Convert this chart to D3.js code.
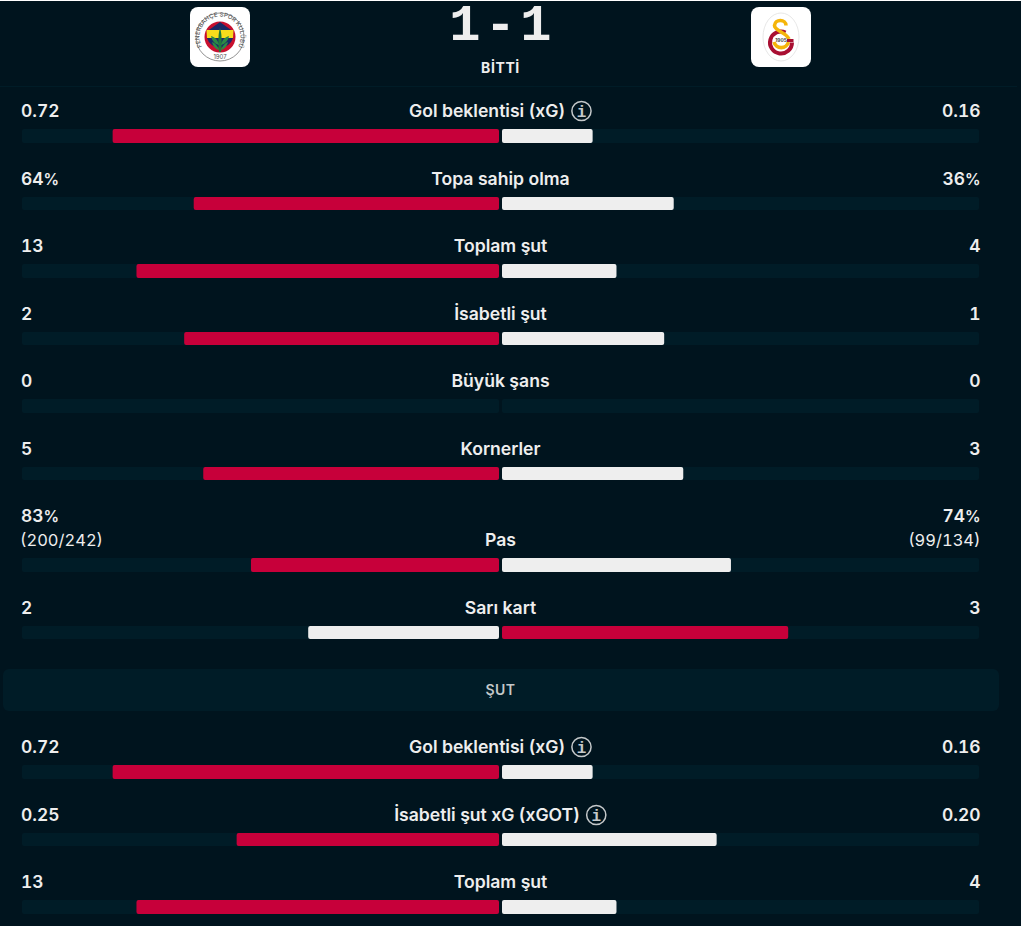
<!DOCTYPE html>
<html>
<head>
<meta charset="utf-8">
<script src="https://cdn.jsdelivr.net/npm/d3@7"></script>
<style>
  html, body { margin: 0; padding: 0; background: #00141e; overflow: hidden; }
  svg { display: block; }
  text { font-family: Inter, "Noto Sans", sans-serif; fill: #eeeeee; }
  .lbl { font-size: 17.6px; font-weight: 600; }
  .val { font-size: 17.4px; font-weight: 600; font-variant-numeric: tabular-nums; }
  .sub { font-size: 16.5px; font-weight: 400; font-variant-numeric: tabular-nums; }
</style>
</head>
<body>
<svg id="vis"></svg>
<script>
var statNames = ["Gol beklentisi (xG)", "Topa sahip olma", "Toplam şut", "İsabetli şut", "Büyük şans", "Kornerler", "Pas", "Sarı kart", "Gol beklentisi (xG)", "İsabetli şut xG (xGOT)", "Toplam şut"];
var homeLabels = ["0.72", "64%", "13", "2", "0", "5", "83%", "2", "0.72", "0.25", "13"];
var awayLabels = ["0.16", "36%", "4", "1", "0", "3", "74%", "3", "0.16", "0.20", "4"];
var homeDetail = [null, null, null, null, null, null, "(200/242)", null, null, null, null];
var awayDetail = [null, null, null, null, null, null, "(99/134)", null, null, null, null];
// bar share of each side, percent
var homeShare = [81, 64, 76, 66, 0, 62, 52, 40, 81, 55, 76];
var awayShare = [19, 36, 24, 34, 0, 38, 48, 60, 19, 45, 24];
var hasInfo = [true, false, false, false, false, false, false, false, true, true, false];
var sectionBefore = [null, null, null, null, null, null, null, null, "ŞUT", null, null];
var scoreText = "1-1";
var statusText = "BİTTİ";

var width = 1021, height = 926;
var red = "#c7003a", light = "#eeeeee", track = "#001c27";
var svg = d3.select("#vis").attr("width", width).attr("height", height);

svg.append("rect").attr("width", width).attr("height", height).attr("fill", "#00141e");
svg.append("rect").attr("width", width).attr("height", 1).attr("fill", "#ffffff");
svg.append("line").attr("x1", 0).attr("x2", 1017).attr("y1", 86.5).attr("y2", 86.5).attr("stroke", "#001c27");

// header
svg.append("text").text(scoreText).attr("x", 502.5).attr("y", 40)
  .attr("text-anchor", "middle")
  .style("font-family", "'Liberation Mono', monospace").style("font-weight", 700).style("font-size", "52px").style("letter-spacing", "4.3px");
svg.append("text").text(statusText).attr("x", 500.5).attr("y", 73)
  .attr("text-anchor", "middle").style("font-size", "14px").style("font-weight", 700).style("letter-spacing", "0.6px");

// crests
var fb = svg.append("g").attr("transform", "translate(220,37)");
fb.append("rect").attr("x", -30).attr("y", -30).attr("width", 60).attr("height", 60).attr("rx", 8).attr("fill", "#fff");
fb.append("circle").attr("r", 24).attr("fill", "#fff").attr("stroke", "#777").attr("stroke-width", 0.8);
fb.append("path").attr("id", "fbArc").attr("d", "M-14.5,14.5A20.5,20.5 0 1 1 14.5,14.5").attr("fill", "none");
fb.append("text").style("font-size", "6px").style("fill", "#555").style("font-weight", 500)
  .append("textPath").attr("href", "#fbArc").attr("startOffset", "50%").attr("text-anchor", "middle").text("FENERBAHÇE SPOR KULÜBÜ");
fb.append("text").text("1907").attr("y", 21.5).attr("text-anchor", "middle").style("font-size", "6px").style("fill", "#555");
fb.append("circle").attr("r", 15.5).attr("fill", "#c8102e");
fb.append("path").attr("d", "M0,-15L12.5,-6L-12.5,-6Z").attr("fill", "#1b2a66");
fb.append("path").attr("d", "M-13.5,-7L13.5,-7L13,1L-13,1Z").attr("fill", "#f6dc1c");
fb.append("path").attr("d", "M-13,1L13,1A13.5,13.5 0 0 1 -13,1Z").attr("fill", "#1b2a66");
fb.append("path").attr("d", "M0,-9C2,-4 2,8 1,15L-1,15C-2,8 -2,-4 0,-9Z").attr("fill", "#1e7a3a");
fb.append("path").attr("d", "M-9,-1C-5,0 -2,3 -1,8C-5,7 -8,4 -9,-1ZM9,-1C5,0 2,3 1,8C5,7 8,4 9,-1ZM-8,5C-5,6 -2,9 -1,13C-5,12 -7,9 -8,5ZM8,5C5,6 2,9 1,13C5,12 7,9 8,5Z").attr("fill", "#2c8a45");

var gs = svg.append("g").attr("transform", "translate(781,37)");
gs.append("rect").attr("x", -30).attr("y", -30).attr("width", 60).attr("height", 60).attr("rx", 8).attr("fill", "#fff");
gs.append("ellipse").attr("rx", 18).attr("ry", 24).attr("fill", "#fff").attr("stroke", "#ddd").attr("stroke-width", 0.7);
gs.append("path").attr("d", "M-7,5A7.5,7.5 0 0 0 7.5,5").attr("fill", "none").attr("stroke", "#f5b50a").attr("stroke-width", 3.6);
gs.append("path").attr("d", "M4.5,-4.5A11,11 0 1 0 11,5.5").attr("fill", "none").attr("stroke", "#a90f32").attr("stroke-width", 4);
gs.append("path").attr("d", "M5,-11.5C5,-18 -6,-18.5 -6.5,-11.5C-6.5,-6 5,-5 8,2").attr("fill", "none").attr("stroke", "#f5b50a").attr("stroke-width", 3.6);
gs.append("path").attr("d", "M12.5,3.5L6,3.5").attr("fill", "none").attr("stroke", "#a90f32").attr("stroke-width", 3);
gs.append("text").text("1905").attr("x", 0).attr("y", 5).attr("text-anchor", "middle").style("font-size", "4.8px").style("font-weight", 700).style("fill", "#444");

// rows: walk down the list, a detail line or a section header adds space
var rowStep = 67.5, detailExtra = 24, sectionExtra = 72;
var barTop = [];
statNames.forEach(function(d, i) {
  if (i === 0) barTop.push(129);
  else barTop.push(barTop[i - 1] + rowStep + (homeDetail[i] ? detailExtra : 0) + (sectionBefore[i] ? sectionExtra : 0));
});

var barH = 14;
// half pixel rows snap inwards, like the page layout does
function snapTop(d) { return Math.ceil(d.y); }
function snapH(d) { return Math.floor(d.y + barH) - Math.ceil(d.y); }

var homeX = d3.scaleLinear().domain([0, 100]).range([499, 22]);
var awayX = d3.scaleLinear().domain([0, 100]).range([502, 979]);
var rows = statNames.map(function(name, i) {
  return { name: name, i: i, y: barTop[i], home: homeShare[i], away: awayShare[i] };
});

// tracks
svg.selectAll(".track-h").data(rows).enter().append("rect")
  .attr("x", homeX(100)).attr("y", snapTop).attr("width", homeX(0) - homeX(100)).attr("height", snapH).attr("rx", 2).attr("fill", track);
svg.selectAll(".track-a").data(rows).enter().append("rect")
  .attr("x", awayX(0)).attr("y", snapTop).attr("width", awayX(100) - awayX(0)).attr("height", snapH).attr("rx", 2).attr("fill", track);

// value bars, the side with the "better" number is red
var redHome = rows.map(function(d) {
  return d.name === "Sarı kart" ? false : true;
});
svg.selectAll(".bar-h").data(rows.filter(d => d.home > 0)).enter().append("rect")
  .attr("x", d => homeX(d.home)).attr("y", snapTop).attr("width", d => homeX(0) - homeX(d.home)).attr("height", snapH).attr("rx", 2)
  .attr("fill", d => redHome[d.i] ? red : light);
svg.selectAll(".bar-a").data(rows.filter(d => d.away > 0)).enter().append("rect")
  .attr("x", awayX(0)).attr("y", snapTop).attr("width", d => awayX(d.away) - awayX(0)).attr("height", snapH).attr("rx", 2)
  .attr("fill", d => redHome[d.i] ? light : red);

// value label, the percent sign is a bit narrower in the original
function valueLabel(str, x, y, anchor) {
  var t = svg.append("text").attr("class", "val").attr("x", x).attr("y", y).attr("text-anchor", anchor);
  t.append("tspan").text(str.replace("%", ""));
  if (str.indexOf("%") > -1) t.append("tspan").text("%").style("font-size", "15.5px");
}

// labels
rows.forEach(function(d) {
  var i = d.i, base = d.y - 12;
  var hasDetail = !!homeDetail[i];
  var top = hasDetail ? base - 24 : base;
  valueLabel(homeLabels[i], 21, top, "start");
  valueLabel(awayLabels[i], 980.5, top, "end");
  if (hasDetail) {
    svg.append("text").attr("class", "sub").text(homeDetail[i]).attr("x", 20).attr("y", base);
    svg.append("text").attr("class", "sub").text(awayDetail[i]).attr("x", 980.5).attr("y", base).attr("text-anchor", "end");
  }
  var t = svg.append("text").attr("class", "lbl").text(d.name).attr("y", base);
  if (hasInfo[i]) {
    var w = t.node().getComputedTextLength(), total = w + 6 + 21;
    var x0 = 500.5 - total / 2;
    t.attr("x", x0);
    var g = svg.append("g").attr("transform", "translate(" + (x0 + w + 16.5) + "," + (Math.round(base) - 6) + ")");
    g.append("circle").attr("r", 9.6).attr("fill", "none").attr("stroke", "#c4c8ca").attr("stroke-width", 1.5);
    g.append("text").text("i").attr("y", 5.5).attr("text-anchor", "middle")
      .style("font-family", "'Liberation Mono', monospace").style("font-size", "16px").style("font-weight", 700).style("fill", "#c4c8ca");
  } else {
    t.attr("x", 500.5).attr("text-anchor", "middle");
  }
  if (sectionBefore[i]) {
    svg.append("rect").attr("x", 3).attr("y", 669).attr("width", 996).attr("height", 42).attr("rx", 6).attr("fill", track);
    svg.append("text").text(sectionBefore[i]).attr("x", 500.5).attr("y", 695).attr("text-anchor", "middle")
      .style("font-size", "14px").style("font-weight", 600).style("fill", "#c4c8ca").style("letter-spacing", "0.5px");
  }
});
</script>
</body>
</html>
